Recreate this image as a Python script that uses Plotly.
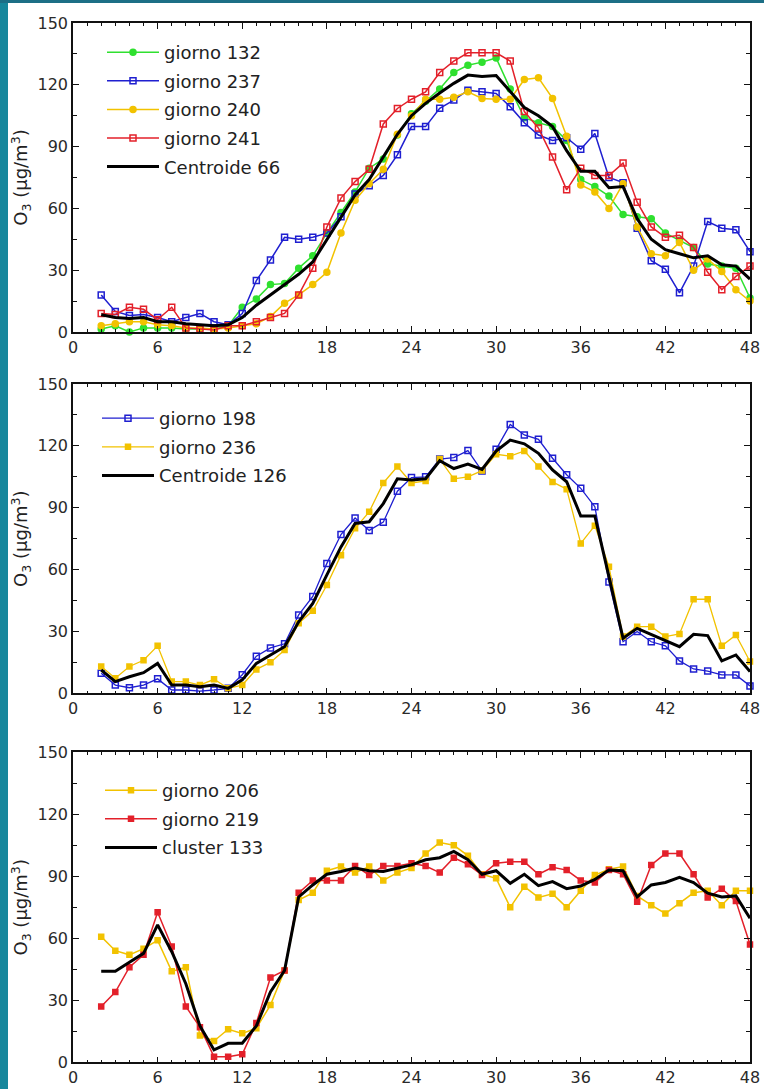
import plotly.graph_objects as go

hours = list(range(2, 49))

# Panel 1
p1_names = ["giorno 132", "giorno 237", "giorno 240", "giorno 241", "Centroide 66"]
p1_g132 = [1.5, 3, 0, 2, 2, 2, 1.5, 1.5, 1.5, 3, 12, 16, 23, 23.5, 31, 37, 48, 58, 68, 79.5, 84, 95.6,
           106, 112, 118, 126, 129.5, 131, 133, 118, 104, 101.6, 99.7, 93, 74, 70.6, 66, 57, 56, 55,
           48, 44.4, 41, 33, 32, 31, 16.5]
p1_g237 = [18, 10, 8, 8.5, 7, 5, 7, 9, 5, 3.5, 9, 25, 35, 46, 45, 46, 48, 56, 67, 71, 76, 86,
           99.7, 99.7, 108.6, 112.6, 117.4, 116.6, 115.8, 109.4, 101.6, 95.6, 93, 94.3, 88.7, 96.4,
           75, 72.5, 50.4, 34.6, 30.5, 19, 32, 53.6, 50.4, 49.6, 39]
p1_g240 = [3, 4, 5, 5, 3.5, 3, 2, 2, 1.5, 2, 3, 4, 7.5, 14, 18, 23, 29, 48, 64, 72, 79, 96,
           105, 113, 113, 114, 116.6, 113.4, 113, 113, 122.6, 123.4, 113.4, 95, 71.4, 68, 60, 72,
           51, 38, 37, 43.5, 30, 35.4, 29.4, 20.5, 15]
p1_g241 = [9, 8.5, 12, 11, 6, 12, 2, 1.5, 1, 3, 3, 5, 7, 9, 18, 31, 51, 65, 73, 79, 101, 108.5,
           113, 116.6, 126, 131.5, 135.5, 135.5, 135.5, 131.5, 107, 99, 85, 69, 79.5, 76, 76, 82,
           63, 51, 46, 47, 41, 29, 20.5, 27, 32]
p1_c66 = [8.4, 7, 6.5, 7, 5, 5, 4, 3.5, 3, 3.5, 7, 13, 18, 23, 28, 34, 45, 56, 66.5, 74, 85, 96,
          105, 111, 116, 120.7, 124.7, 124, 124.5, 116.6, 109, 105, 99.7, 88, 78, 78, 70, 70.6,
          55, 45, 40, 38, 36, 37, 32.6, 32, 25.7]

# Panel 2
p2_names = ["giorno 198", "giorno 236", "Centroide 126"]
p2_g198 = [9.7, 4, 2.7, 4, 7, 1.6, 1.6, 1.1, 1.6, 2.4, 9, 18, 22, 24, 38, 47, 63, 77, 85, 79, 83,
           98, 104.6, 105, 113.6, 114.3, 117.7, 107.8, 118.3, 130.4, 125.3, 123.2, 114, 106, 99.4,
           90.5, 54, 25, 30, 25, 23, 15.7, 11.8, 10.8, 8.9, 8.9, 3.6]
p2_g236 = [13, 7.3, 13, 16, 23, 5.7, 5.7, 4, 6.8, 2.4, 4, 11.6, 15, 21, 34, 40, 52.5, 67, 80, 88,
           102, 110, 102, 103, 113.6, 104, 105, 108, 115.9, 115, 117.5, 110, 102.5, 99, 72.7, 81.3,
           61.4, 27.5, 32.3, 32.3, 27.5, 28.8, 45.6, 45.6, 23, 28.3, 15.4]
p2_c126 = [11.3, 5.7, 8, 10, 14.5, 4, 4, 3.2, 4, 2.4, 6.5, 14.5, 18.6, 22.6, 34.7, 43.6, 57.4, 71,
           82.4, 83.2, 92, 104, 103.4, 104, 112.8, 109, 111.2, 108.6, 117.5, 122.8, 121, 116.4,
           108.3, 102.6, 86, 86, 56.6, 26.7, 31.5, 28.6, 25.4, 22.6, 28.6, 28, 15.7, 18.6, 10.5]

# Panel 3
p3_names = ["giorno 206", "giorno 219", "cluster 133"]
p3_g206 = [60.8, 54, 52, 55, 59, 44, 46, 13, 10.3, 16, 14, 16.5, 27.7, 44.4, 78.5, 82, 92.7, 94.7,
           91.8, 94.7, 88, 91.8, 94, 101, 106.3, 105, 100, 91, 89, 75, 85, 79.8, 81.5, 75, 83, 90.6,
           93.4, 94.7, 80.5, 76, 72, 77, 82, 83, 76, 83, 83]
p3_g219 = [27, 34, 46, 52, 72.6, 56, 27, 17, 2.7, 2.7, 3.9, 19, 41, 44.4, 82, 88, 88, 88, 95, 90.6,
           95, 95, 96.3, 95, 91.8, 99, 95.8, 90.6, 96.3, 97, 97, 91, 94.4, 93, 88, 87, 93, 91, 77.7,
           95.5, 101, 101, 91, 79.7, 84, 78, 57]
p3_c133 = [44, 44, 48.4, 52.7, 66.5, 53.5, 38, 17.6, 6, 9.2, 9.2, 17.6, 34, 44.4, 80, 85.8, 91,
           92.3, 94, 92.7, 92.3, 94, 95.5, 98, 99, 102, 98, 91, 92.7, 86.6, 91, 85.5, 87.4, 84,
           85.3, 88.5, 93, 92.7, 80, 85.8, 87, 89.5, 87, 81.8, 80, 80.5, 69.7]

x_ticks = [0, 6, 12, 18, 24, 30, 36, 42, 48]
y_ticks = [0, 30, 60, 90, 120, 150]

GREEN = "#2fe02f"
BLUE = "#1f1fd0"
YELLOW = "#f2c200"
RED = "#e3202a"
BLACK = "#000000"

W, H = 764, 1089
FONT = "DejaVu Sans"

fig = go.Figure()

def add(x, y, name, color, symbol, lw, axis, legend, msize=6):
    xa, ya = axis
    mode = "lines+markers" if symbol else "lines"
    fig.add_trace(go.Scatter(
        x=x, y=y, name=name, mode=mode, xaxis=xa, yaxis=ya, legend=legend,
        legendgroup=name,
        line=dict(color=color, width=lw),
        marker=dict(symbol=symbol or "circle", size=msize, color=color,
                    line=dict(color=color, width=1.5)),
        cliponaxis=False,
    ))

add(hours, p1_g132, p1_names[0], GREEN, "circle", 1.5, ("x", "y"), "legend", 6)
add(hours, p1_g237, p1_names[1], BLUE, "square-open", 1.5, ("x", "y"), "legend", 6)
add(hours, p1_g240, p1_names[2], YELLOW, "circle", 1.5, ("x", "y"), "legend", 6)
add(hours, p1_g241, p1_names[3], RED, "square-open", 1.5, ("x", "y"), "legend", 6)
add(hours, p1_c66, p1_names[4], BLACK, None, 3, ("x", "y"), "legend")

add(hours, p2_g198, p2_names[0], BLUE, "square-open", 1.3, ("x2", "y2"), "legend2", 6)
add(hours, p2_g236, p2_names[1], YELLOW, "square", 1.3, ("x2", "y2"), "legend2", 5)
add(hours, p2_c126, p2_names[2], BLACK, None, 3, ("x2", "y2"), "legend2")

add(hours, p3_g206, p3_names[0], YELLOW, "square", 1.5, ("x3", "y3"), "legend3", 5)
add(hours, p3_g219, p3_names[1], RED, "square", 1.5, ("x3", "y3"), "legend3", 5)
add(hours, p3_c133, p3_names[2], BLACK, None, 3, ("x3", "y3"), "legend3")

def py(px):
    return 1 - px / H

panels = [(23, 332), (384, 693.3), (752.3, 1062.3)]
x0, x1 = 73 / W, 750 / W

axis_common = dict(
    showline=True, linecolor="#111111", linewidth=1.5, mirror="allticks",
    ticks="inside", ticklen=6, tickwidth=1.2, tickcolor="#111111",
    showgrid=False, zeroline=False, automargin=False,
    tickfont=dict(family=FONT, size=16, color="#2a2a2a"),
)

layout = dict(
    width=W, height=H, margin=dict(l=0, r=0, t=0, b=0, autoexpand=False),
    paper_bgcolor="white", plot_bgcolor="white",
    font=dict(family=FONT, color="#222222"),
    showlegend=True,
)

for i, (top, bot) in enumerate(panels):
    sfx = "" if i == 0 else str(i + 1)
    layout["xaxis" + sfx] = dict(
        axis_common, domain=[x0, x1], range=[0, 48], tickvals=x_ticks,
        anchor="y" + sfx,
        minor=dict(dtick=1, tick0=0, ticks="inside", ticklen=3, tickwidth=1, tickcolor="#111111"),
    )
    layout["yaxis" + sfx] = dict(
        axis_common, domain=[py(bot), py(top)], range=[0, 150], tickvals=y_ticks,
        anchor="x" + sfx,
        minor=dict(dtick=15, tick0=0, ticks="inside", ticklen=4, tickwidth=1, tickcolor="#111111"),
        title=dict(text="O<sub>3</sub> (μg/m<sup>3</sup>)",
                   font=dict(family=FONT, size=18, color="#222222"), standoff=5),
    )

legend_pos = [(102, 34), (97, 400), (100, 772)]
for i, (lx, ly) in enumerate(legend_pos):
    key = "legend" if i == 0 else "legend" + str(i + 1)
    layout[key] = dict(
        x=lx / W, y=py(ly), xanchor="left", yanchor="top",
        bgcolor="rgba(0,0,0,0)", borderwidth=0,
        font=dict(family=FONT, size=18, color="#222222"),
        itemwidth=52, tracegroupgap=2.2, traceorder="grouped",
    )

layout["shapes"] = [
    dict(type="rect", xref="paper", yref="paper", x0=0, x1=8 / W, y0=0, y1=1,
         fillcolor="#17879c", line=dict(width=0), layer="below"),
    dict(type="rect", xref="paper", yref="paper", x0=0, x1=1, y0=1 - 3 / H, y1=1,
         fillcolor="#1c6f86", line=dict(width=0), layer="below"),
]

fig.update_layout(**layout)
fig.write_html("out.html")
